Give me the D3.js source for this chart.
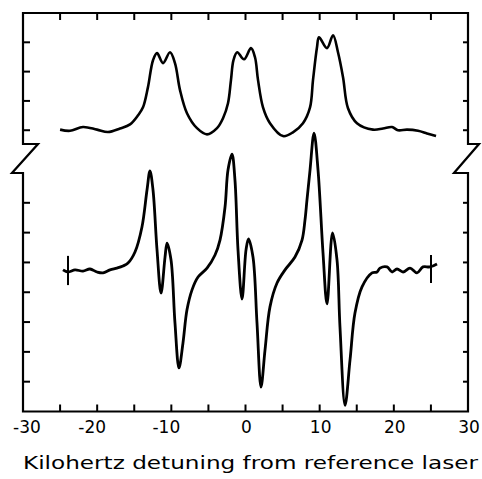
<!DOCTYPE html>
<html>
<head>
<meta charset="utf-8">
<script src="https://cdn.jsdelivr.net/npm/d3@7"></script>
<style>
  html, body { margin: 0; padding: 0; background: #fff; }
  svg { display: block; }
</style>
</head>
<body>
<svg id="chart" width="482" height="479"></svg>
<script>
// Absorption trace (upper panel): detuning in kHz, signal in arbitrary units
const absDetuning = [-25.00, -23.66, -21.91, -20.02, -18.54, -16.92, -15.57, -14.49, -13.82, -13.15,
  -12.47, -11.93, -11.12, -10.18, -9.51, -8.83, -7.89, -6.54, -5.19, -3.84,
  -3.03, -2.36, -1.96, -1.62, -1.12, -0.20, 0.74, 1.28, 1.69, 2.36,
  3.30, 5.06, 6.40, 7.75, 8.70, 9.10, 9.64, 9.91, 10.99, 11.80,
  12.47, 13.15, 13.82, 15.03, 17.19, 18.54, 19.75, 20.56, 21.78, 23.26,
  24.47, 25.69];
const absSignal = [0.02, -0.02, 0.11, 0.02, -0.06, 0.06, 0.20, 0.51, 0.78, 1.47,
  2.39, 2.63, 2.29, 2.66, 2.29, 1.37, 0.58, 0.07, -0.14, 0.07,
  0.41, 0.92, 1.71, 2.39, 2.66, 2.42, 2.80, 2.49, 1.71, 0.78,
  0.24, -0.20, -0.07, 0.24, 0.78, 1.71, 2.83, 3.17, 2.80, 3.24,
  2.66, 1.81, 0.75, 0.24, 0.02, 0.06, 0.11, 0.00, 0.02, -0.02,
  -0.11, -0.20];

// Dispersion trace (lower panel)
const dispDetuning = [-24.61, -23.93, -22.98, -21.91, -20.97, -20.02, -19.21, -18.27, -17.33, -16.52,
  -15.84, -14.90, -13.96, -13.28, -12.88, -12.47, -11.93, -11.39, -10.85, -10.58,
  -10.04, -9.51, -8.97, -8.43, -7.89, -7.21, -6.40, -5.19, -4.11, -3.44,
  -2.76, -2.36, -1.82, -1.42, -1.01, -0.47, 0.07, 0.40, 1.01, 1.55,
  2.09, 2.63, 3.30, 4.25, 5.33, 6.67, 7.62, 8.02, 8.29, 8.70,
  9.24, 9.78, 10.45, 10.99, 11.73, 12.34, 12.74, 13.42, 14.09, 14.76,
  15.71, 17.06, 17.73, 18.13, 19.08, 19.75, 20.43, 21.24, 22.18, 23.12,
  23.93, 24.87, 25.82];
const dispSignal = [0.75, 0.68, 0.75, 0.71, 0.78, 0.68, 0.65, 0.75, 0.81, 0.88,
  0.98, 1.35, 2.19, 3.43, 4.07, 3.43, 1.42, -0.03, 1.18, 1.65,
  1.08, -1.03, -2.54, -1.70, -0.59, 0.08, 0.51, 0.81, 1.25, 1.75,
  2.86, 4.10, 4.63, 3.76, 1.42, -0.23, 1.42, 1.79, 1.18, -1.03,
  -3.18, -1.94, -0.49, 0.31, 0.75, 1.18, 1.75, 2.42, 3.10, 4.10,
  5.34, 4.10, 1.32, -0.39, 1.99, 1.08, -1.17, -3.79, -2.28, -0.70,
  0.18, 0.65, 0.68, 0.81, 0.85, 0.68, 0.78, 0.68, 0.81, 0.65,
  0.85, 0.85, 0.95];

// Scan end markers on the dispersion trace: detuning, lower and upper signal
const markerDetuning = [-23.93, 25.01];
const markerLow = [0.24, 0.31];
const markerHigh = [1.22, 1.25];

// Axis ticks
const xTickValues = [-25, -20, -15, -10, -5, 0, 5, 10, 15, 20, 25];
const xLabelValues = [-30, -20, -10, 0, 10, 20, 30];
const upperTickValues = [0, 1, 2, 3];
const lowerTickValues = [-3, -2, -1, 0, 1, 2, 3];
const xTitle = "Kilohertz detuning from reference laser";

// Layout
const frameLeft = 23, frameRight = 468, frameTop = 13, frameBottom = 411.5;
const upperBreak = 144, lowerBreak = 173;

const svg = d3.select("#chart");
const x = d3.scaleLinear().domain([-30, 30]).range([frameLeft, frameRight]);
const yUpper = d3.scaleLinear().domain([-0.47, 4]).range([upperBreak, frameTop]);
const yLower = d3.scaleLinear().domain([-4, 4]).range([frameBottom, lowerBreak]);

// Frame with break symbols on both sides
const frame = d3.path();
frame.moveTo(frameLeft, upperBreak);
frame.lineTo(frameLeft, frameTop);
frame.lineTo(frameRight, frameTop);
frame.lineTo(frameRight, upperBreak);
frame.lineTo(frameRight + 11, upperBreak);
frame.lineTo(frameRight - 14, lowerBreak);
frame.lineTo(frameRight, lowerBreak);
frame.lineTo(frameRight, frameBottom);
frame.lineTo(frameLeft, frameBottom);
frame.lineTo(frameLeft, lowerBreak);
frame.lineTo(frameLeft - 11, lowerBreak);
frame.lineTo(frameLeft + 15, upperBreak);
frame.closePath();
svg.append("path")
  .attr("d", frame.toString())
  .attr("fill", "none")
  .attr("stroke", "#000")
  .attr("stroke-width", 2.2)
  .attr("stroke-linejoin", "miter");

// Inward ticks on all four sides
const tickLen = 7;
const ticks = svg.append("g").attr("stroke", "#000").attr("stroke-width", 2);
xTickValues.forEach(v => {
  ticks.append("line").attr("x1", x(v)).attr("x2", x(v)).attr("y1", frameTop).attr("y2", frameTop + tickLen);
  ticks.append("line").attr("x1", x(v)).attr("x2", x(v)).attr("y1", frameBottom).attr("y2", frameBottom - tickLen);
});
upperTickValues.forEach(v => {
  ticks.append("line").attr("x1", frameLeft).attr("x2", frameLeft + tickLen).attr("y1", yUpper(v)).attr("y2", yUpper(v));
  ticks.append("line").attr("x1", frameRight).attr("x2", frameRight - 5).attr("y1", yUpper(v)).attr("y2", yUpper(v));
});
lowerTickValues.forEach(v => {
  ticks.append("line").attr("x1", frameLeft).attr("x2", frameLeft + tickLen).attr("y1", yLower(v)).attr("y2", yLower(v));
  ticks.append("line").attr("x1", frameRight).attr("x2", frameRight - 5).attr("y1", yLower(v)).attr("y2", yLower(v));
});

// Tick labels
const font = "'DejaVu Sans', sans-serif";
svg.append("g").selectAll("text")
  .data(xLabelValues)
  .join("text")
  .attr("x", d => x(d) + (d < 0 && d > -30 ? -5 : (d === -30 ? 4 : 1)))
  .attr("y", 433)
  .attr("text-anchor", "middle")
  .attr("font-family", font)
  .attr("font-size", 17)
  .attr("fill", "#000")
  .text(d => String(d));

// Axis title
svg.append("text")
  .attr("x", 23)
  .attr("y", 469)
  .attr("font-family", font)
  .attr("font-size", 18.5)
  .attr("textLength", 455)
  .attr("lengthAdjust", "spacingAndGlyphs")
  .attr("fill", "#000")
  .text(xTitle);

// Traces
const absLine = d3.line()
  .x((d, i) => x(absDetuning[i]))
  .y(d => yUpper(d))
  .curve(d3.curveCatmullRom.alpha(0.5));
const dispLine = d3.line()
  .x((d, i) => x(dispDetuning[i]))
  .y(d => yLower(d))
  .curve(d3.curveCatmullRom.alpha(0.5));

svg.append("path")
  .attr("d", absLine(absSignal))
  .attr("fill", "none")
  .attr("stroke", "#000")
  .attr("stroke-width", 2.6)
  .attr("stroke-linejoin", "round");
svg.append("path")
  .attr("d", dispLine(dispSignal))
  .attr("fill", "none")
  .attr("stroke", "#000")
  .attr("stroke-width", 2.8)
  .attr("stroke-linejoin", "round");

// Scan end markers
svg.append("g").selectAll("line")
  .data(markerDetuning)
  .join("line")
  .attr("x1", d => x(d)).attr("x2", d => x(d))
  .attr("y1", (d, i) => yLower(markerLow[i]))
  .attr("y2", (d, i) => yLower(markerHigh[i]))
  .attr("stroke", "#000")
  .attr("stroke-width", 2);
</script>
</body>
</html>
